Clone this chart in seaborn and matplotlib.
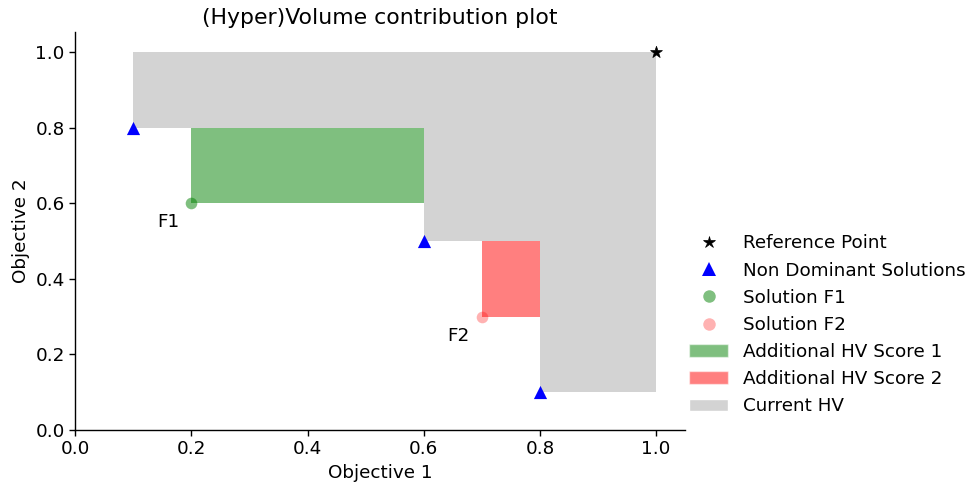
import matplotlib
matplotlib.use("Agg")
import matplotlib.pyplot as plt
import seaborn as sns
import pandas as pd
from matplotlib.patches import Patch
from matplotlib.lines import Line2D

sns.set_style("white")
plt.rcParams['font.family'] = ['DejaVu Sans']
plt.rcParams['text.color'] = 'black'
plt.rcParams['axes.labelcolor'] = 'black'
plt.rcParams['xtick.color'] = 'black'
plt.rcParams['ytick.color'] = 'black'

# Data
ref_point = (1.0, 1.0)
nd_x = [0.1, 0.6, 0.8]
nd_y = [0.8, 0.5, 0.1]
f1 = (0.2, 0.6)
f2 = (0.7, 0.3)
score1_x = [0.2, 0.6]
score1_y = [0.6, 0.8]
score2_x = [0.7, 0.8]
score2_y = [0.3, 0.5]

FS = 13.2

fig, ax = plt.subplots(figsize=(9.76, 4.88), dpi=100)

# Current HV (union of rectangles dominated by the non-dominant solutions)
for px, py in zip(nd_x, nd_y):
    ax.fill_between([px, ref_point[0]], py, ref_point[1], color='lightgrey', lw=0, zorder=1)

ax.fill_between(score1_x, score1_y[0], score1_y[1], color='green', alpha=0.5, lw=0, zorder=2)
ax.fill_between(score2_x, score2_y[0], score2_y[1], color='red', alpha=0.5, lw=0, zorder=2)

nd_df = pd.DataFrame({'x': nd_x, 'y': nd_y})
sns.scatterplot(data=nd_df, x='x', y='y', marker='^', color='blue', s=90, linewidth=0, ax=ax, zorder=4)
sns.scatterplot(x=[ref_point[0]], y=[ref_point[1]], marker='*', color='black', s=80, linewidth=0.5,
                edgecolor='black', ax=ax, zorder=4)
sns.scatterplot(x=[f1[0]], y=[f1[1]], marker='o', color='green', alpha=0.5, s=70, linewidth=0, ax=ax, zorder=4)
sns.scatterplot(x=[f2[0]], y=[f2[1]], marker='o', color='red', alpha=0.3, s=70, linewidth=0, ax=ax, zorder=4)

ax.text(f1[0] - 0.04, f1[1] - 0.05, 'F1', fontsize=FS, ha='center', va='center')
ax.text(f2[0] - 0.04, f2[1] - 0.05, 'F2', fontsize=FS, ha='center', va='center')

ax.set_xlim(0, 1.05)
ax.set_ylim(0, 1.053)
ax.set_xticks([0.0, 0.2, 0.4, 0.6, 0.8, 1.0])
ax.set_yticks([0.0, 0.2, 0.4, 0.6, 0.8, 1.0])
ax.tick_params(axis='both', labelsize=FS, length=4, width=1, direction='out', bottom=True, left=True)
ax.set_xlabel('Objective 1', fontsize=FS)
ax.set_ylabel('Objective 2', fontsize=FS)
ax.set_title('(Hyper)Volume contribution plot', fontsize=15.8)
sns.despine(ax=ax)
for s in ['left', 'bottom']:
    ax.spines[s].set_color('black')
    ax.spines[s].set_linewidth(1)

handles = [
    Line2D([], [], marker='*', color='black', markeredgewidth=0.5, linestyle='None', markersize=9),
    Line2D([], [], marker='^', color='blue', markeredgewidth=0, linestyle='None', markersize=10),
    Line2D([], [], marker='o', color='green', alpha=0.5, markeredgewidth=0, linestyle='None', markersize=9),
    Line2D([], [], marker='o', color='red', alpha=0.3, markeredgewidth=0, linestyle='None', markersize=9),
    Patch(facecolor='green', alpha=0.5),
    Patch(facecolor='red', alpha=0.5),
    Patch(facecolor='lightgrey'),
]
labels = ['Reference Point', 'Non Dominant Solutions', 'Solution F1', 'Solution F2',
          'Additional HV Score 1', 'Additional HV Score 2', 'Current HV']
ax.legend(handles, labels, loc='center left', bbox_to_anchor=(0.995, 0.264), frameon=False,
          fontsize=FS, borderaxespad=0, handlelength=2.1)

fig.subplots_adjust(left=0.077, right=0.702, top=0.934, bottom=0.119)
fig.savefig('out.png', dpi=100)
